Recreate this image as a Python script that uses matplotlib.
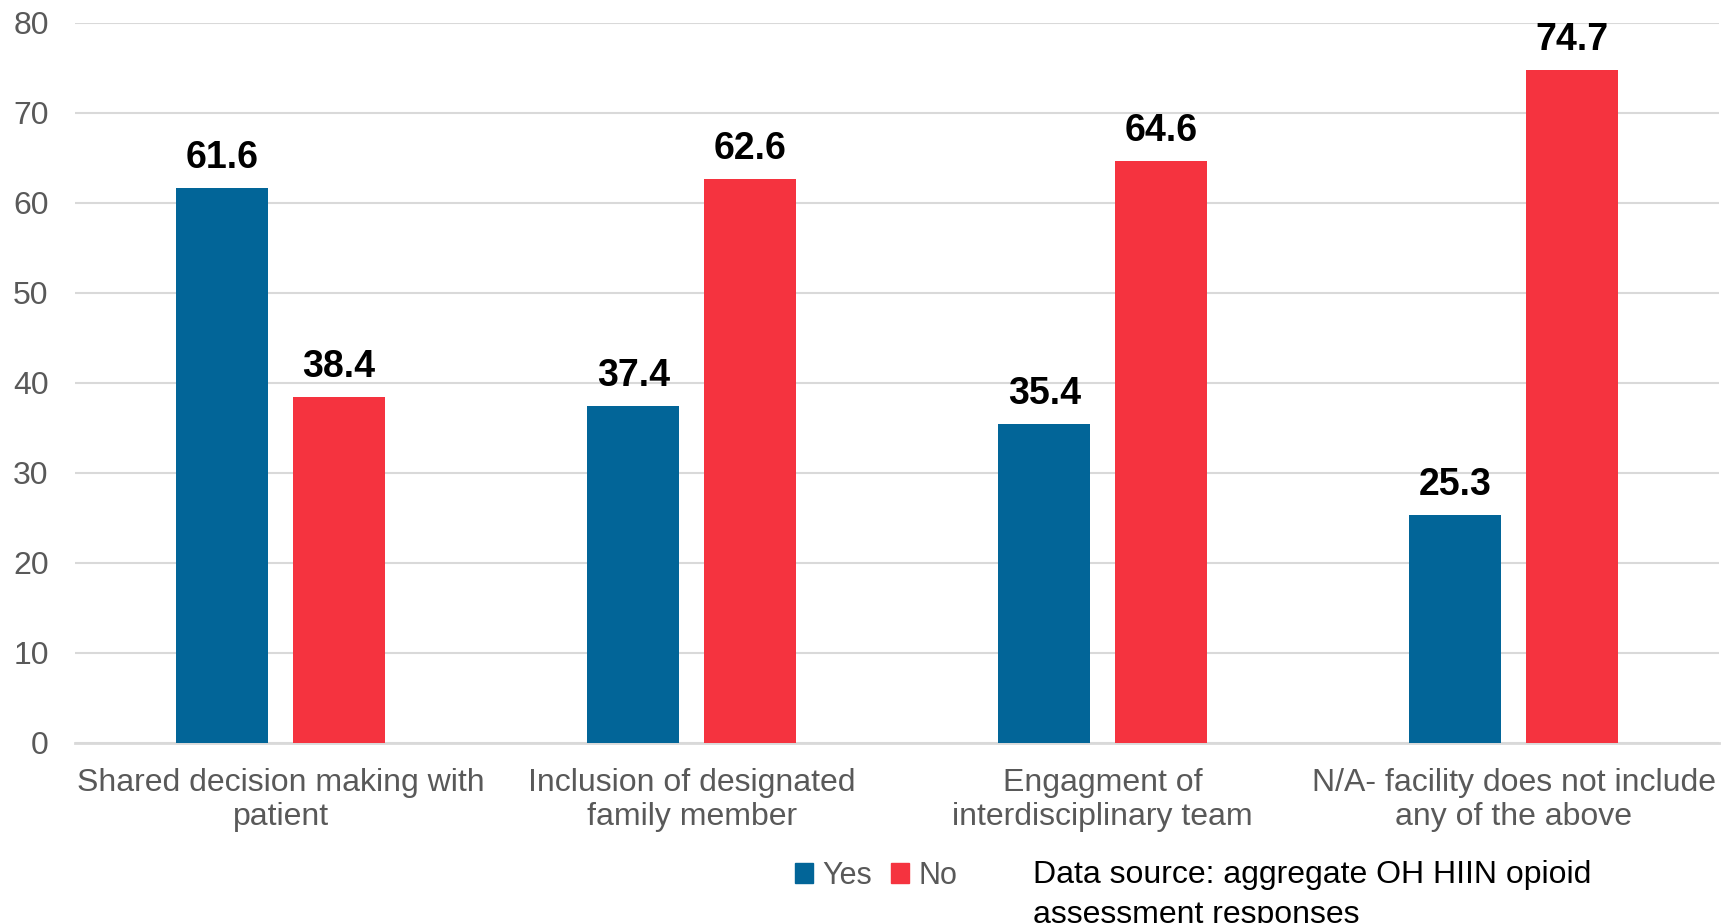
import numpy as np
import matplotlib
matplotlib.use("Agg")
import matplotlib.pyplot as plt
from matplotlib.patches import Patch

plt.rcParams['font.family'] = ['Liberation Sans', 'DejaVu Sans']

categories = ["Shared decision making with\npatient",
              "Inclusion of designated\nfamily member",
              "Engagment of\ninterdisciplinary team",
              "N/A- facility does not include\nany of the above"]
yes_vals = [61.6, 37.4, 35.4, 25.3]
no_vals = [38.4, 62.6, 64.6, 74.7]
yticks = [0, 10, 20, 30, 40, 50, 60, 70, 80]

blue = "#026598"
red = "#F5333F"
grey_txt = "#595959"

fig = plt.figure(figsize=(17.33, 9.23), dpi=100)
ax = fig.add_axes([0.0433, 0.1953, 0.9487, 0.7801])

x = np.arange(len(categories))
w = 0.224
off = 0.142
b1 = ax.bar(x - off, yes_vals, w, color=blue, zorder=3)
b2 = ax.bar(x + off, no_vals, w, color=red, zorder=3)

# value labels above each bar
for bars, vals in ((b1, yes_vals), (b2, no_vals)):
    for r, v in zip(bars, vals):
        ax.annotate(f"{v:.1f}", (r.get_x() + r.get_width() / 2, v),
                    xytext=(0, 9), textcoords="offset points",
                    ha="center", va="bottom", fontsize=27,
                    fontweight="bold", color="black")

ax.set_xlim(-0.5, len(categories) - 0.5)
ax.set_ylim(0, 80)
ax.set_yticks(yticks)
ax.set_xticks(x)
ax.set_xticklabels(categories, fontsize=23, color=grey_txt, linespacing=1.2)
ax.tick_params(axis="y", labelsize=23, labelcolor=grey_txt, length=0, pad=19)
ax.tick_params(axis="x", length=0, pad=18)
ax.yaxis.grid(True, color="#d9d9d9", linewidth=1.5, zorder=0)
for s in ["top", "right", "left"]:
    ax.spines[s].set_visible(False)
ax.spines["bottom"].set_color("#d9d9d9")
ax.spines["bottom"].set_linewidth(2)

handles = [Patch(color=blue, label="Yes"), Patch(color=red, label="No")]
leg = fig.legend(handles=handles, loc="center", bbox_to_anchor=(0.5055, 0.051),
                 ncol=2, frameon=False, fontsize=22, handlelength=0.6,
                 handleheight=0.6, handletextpad=0.3, columnspacing=0.6)
for t in leg.get_texts():
    t.set_color(grey_txt)

fig.text(0.596, 0.0685, "Data source: aggregate OH HIIN opioid\nassessment responses",
         fontsize=23, color="black", va="top", ha="left", linespacing=1.45)

fig.savefig("out.png", dpi=100)
